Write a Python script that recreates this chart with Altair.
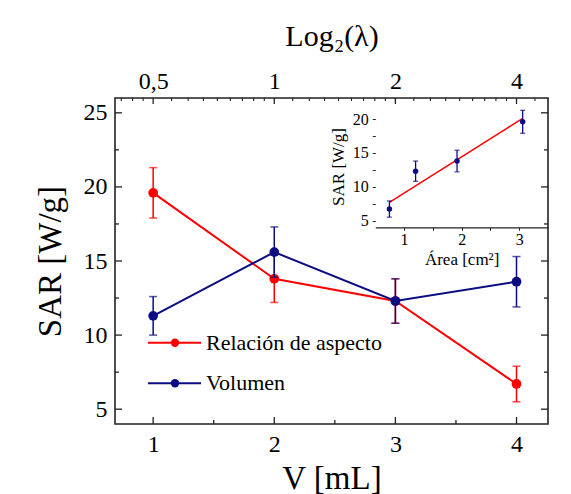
import altair as alt
import pandas as pd

# --- data -------------------------------------------------------------
volumen_ml = [1, 2, 3, 4]
sar_aspecto = [19.6, 13.8, 12.3, 6.7]
err_aspecto = [1.7, 1.6, 1.5, 1.2]
sar_volumen = [11.3, 15.6, 12.3, 13.6]
err_volumen = [1.3, 1.7, 1.5, 1.7]

lambda_values = [0.5, 1, 2, 4]

area_cm2 = [0.745, 1.20, 1.92, 3.06]
sar_area = [6.7, 12.3, 13.8, 19.6]
err_area = [1.2, 1.5, 1.6, 1.7]
ajuste_area = [0.745, 3.06]
ajuste_sar = [7.7, 20.1]

series = ["Relación de aspecto", "Volumen"]
colors = ["#ff0000", "#0c0c82"]

# --- layout -----------------------------------------------------------
W, H = 433, 326
FONT = "Liberation Serif"
X_MIN, X_MAX = 0.685, 4.26
Y_MIN, Y_MAX = 4, 26
FRAME = "#222222"

x_main = alt.Scale(domain=[X_MIN, X_MAX], nice=False, zero=False)
y_main = alt.Scale(domain=[Y_MIN, Y_MAX], nice=False, zero=False)

rows = []
for name, ys, es in [(series[0], sar_aspecto, err_aspecto),
                     (series[1], sar_volumen, err_volumen)]:
    for v, s, e in zip(volumen_ml, ys, es):
        rows.append({"serie": name, "v": v, "sar": s, "lo": s - e, "hi": s + e})
df = pd.DataFrame(rows)

text_axis = dict(labelFont=FONT, labelColor="black", titleFont=FONT,
                 titleColor="black", titleFontWeight="normal", grid=False)

layers = []

# main axes (labels and titles only; the frame carries inward ticks)
axis_df = pd.DataFrame({"v": volumen_ml, "s": [5, 10, 15, 20]})
layers.append(alt.Chart(axis_df).mark_point(opacity=0).encode(
    x=alt.X("v:Q", scale=x_main, axis=alt.Axis(
        orient="bottom", values=volumen_ml, ticks=False, domain=False,
        labelFontSize=24, labelPadding=8, title="V [mL]",
        titleFontSize=33, titlePadding=6, **text_axis)),
    y=alt.Y("s:Q", scale=y_main, axis=alt.Axis(
        orient="left", values=[5, 10, 15, 20, 25], ticks=False, domain=False,
        labelFontSize=24, labelPadding=8, title="SAR [W/g]",
        titleFontSize=33, titlePadding=16, **text_axis)),
))

for name, col in zip(series, colors):
    b = alt.Chart(df).transform_filter(alt.datum.serie == name)
    xe = alt.X("v:Q", scale=x_main, axis=None)
    layers += [
        b.mark_rule(color=col, strokeWidth=1.5).encode(
            x=xe, y=alt.Y("lo:Q", scale=y_main, axis=None), y2="hi:Q"),
        b.mark_tick(color=col, orient="horizontal", size=8, thickness=1.5).encode(
            x=xe, y=alt.Y("lo:Q", scale=y_main, axis=None)),
        b.mark_tick(color=col, orient="horizontal", size=8, thickness=1.5).encode(
            x=xe, y=alt.Y("hi:Q", scale=y_main, axis=None)),
        b.mark_line(color=col, strokeWidth=2).encode(
            x=xe, y=alt.Y("sar:Q", scale=y_main, axis=None)),
        b.mark_circle(color=col, size=95, opacity=1).encode(
            x=xe, y=alt.Y("sar:Q", scale=y_main, axis=None)),
    ]

# inward tick marks on the frame
x_major = pd.DataFrame({"t": [1, 2, 3, 4]})
x_minor = pd.DataFrame({"t": [1.5, 2.5, 3.5]})
y_major = pd.DataFrame({"t": [5, 10, 15, 20, 25]})
y_minor = pd.DataFrame({"t": [7.5, 12.5, 17.5, 22.5]})


def xticks(d, length):
    return alt.Chart(d).mark_rule(color=FRAME, strokeWidth=1.3).encode(
        x=alt.X("t:Q", scale=x_main, axis=None),
        y=alt.value(H), y2=alt.value(H - length))


def yticks(d, length, right=False):
    x0 = W if right else 0
    x1 = W - length if right else length
    return alt.Chart(d).mark_rule(color=FRAME, strokeWidth=1.3).encode(
        y=alt.Y("t:Q", scale=y_main, axis=None),
        x=alt.value(x0), x2=alt.value(x1))


layers += [xticks(x_major, 7), xticks(x_minor, 4),
           yticks(y_major, 7), yticks(y_minor, 4),
           yticks(y_major, 7, True), yticks(y_minor, 4, True)]

# --- top axis: Log2(lambda) -------------------------------------------
lam_lo, lam_hi = 2 ** (X_MIN - 2), 2 ** (X_MAX - 2)
lam_scale = alt.Scale(type="log", base=2, domain=[lam_lo, lam_hi], nice=False)
lam_minor = [a * (1 + k / 9) for a in [0.25, 0.5, 1, 2, 4] for k in range(1, 9)]
lam_minor = [m for m in lam_minor if lam_lo < m < lam_hi]

layers.append(alt.Chart(pd.DataFrame({"lam": lambda_values})).mark_rule(
    color=FRAME, strokeWidth=1.3).encode(
    x=alt.X("lam:Q", scale=lam_scale, axis=alt.Axis(
        orient="top", values=lambda_values, ticks=False, domain=False,
        format="~g", labelExpr="replace(datum.label, '.', ',')",
        labelFontSize=24, labelPadding=5, title="Log₂(λ)",
        titleFontSize=30, titlePadding=18, **text_axis)),
    y=alt.value(0), y2=alt.value(6)))
layers.append(alt.Chart(pd.DataFrame({"lam": lam_minor})).mark_rule(
    color=FRAME, strokeWidth=1.1).encode(
    x=alt.X("lam:Q", scale=lam_scale, axis=None),
    y=alt.value(0), y2=alt.value(3)))

# --- inset: SAR vs area -----------------------------------------------
IX0, IX1 = 260.3, W
IY0, IY1 = 129.3, 7.6
xi = alt.Scale(domain=[0.5, 3.5], range=[IX0, IX1], nice=False, zero=False)
yi = alt.Scale(domain=[4, 22], range=[IY0, IY1], nice=False, zero=False)

inset_df = pd.DataFrame({"area": area_cm2, "sar": sar_area,
                         "lo": [s - e for s, e in zip(sar_area, err_area)],
                         "hi": [s + e for s, e in zip(sar_area, err_area)]})
fit_df = pd.DataFrame({"area": ajuste_area, "sar": ajuste_sar})

xi_axis = alt.Axis(orient="bottom", offset=-(H - IY0), values=[1, 1.5, 2, 2.5, 3],
                   labelExpr="datum.value % 1 ? '' : format(datum.value, 'd')",
                   tickSize=3, tickColor=FRAME, domainColor=FRAME, domainWidth=1.3,
                   labelFontSize=16, labelPadding=1, title="Área [cm²]",
                   titleFontSize=17, titlePadding=4, **text_axis)
yi_axis = alt.Axis(orient="left", offset=-IX0,
                   values=[5, 7.5, 10, 12.5, 15, 17.5, 20],
                   labelExpr="datum.value % 5 ? '' : format(datum.value, 'd')",
                   domain=False, tickSize=3, tickColor=FRAME,
                   labelFontSize=16, labelPadding=4, title="SAR [W/g]",
                   titleFontSize=17, titlePadding=5, **text_axis)

ib = alt.Chart(inset_df)
xie = alt.X("area:Q", scale=xi, axis=None)
layers += [
    alt.Chart(fit_df).mark_line(color=colors[0], strokeWidth=1.5).encode(
        x=alt.X("area:Q", scale=xi, axis=xi_axis),
        y=alt.Y("sar:Q", scale=yi, axis=yi_axis)),
    ib.mark_rule(color=colors[1], strokeWidth=1.3).encode(
        x=xie, y=alt.Y("lo:Q", scale=yi, axis=None), y2="hi:Q"),
    ib.mark_tick(color=colors[1], orient="horizontal", size=5, thickness=1.3).encode(
        x=xie, y=alt.Y("lo:Q", scale=yi, axis=None)),
    ib.mark_tick(color=colors[1], orient="horizontal", size=5, thickness=1.3).encode(
        x=xie, y=alt.Y("hi:Q", scale=yi, axis=None)),
    ib.mark_circle(color=colors[1], size=30, opacity=1).encode(
        x=xie, y=alt.Y("sar:Q", scale=yi, axis=None)),
]

# --- legend -----------------------------------------------------------
leg_df = pd.DataFrame({"idx": [0, 1], "serie": series})
leg_y = alt.Y("idx:Q", scale=alt.Scale(domain=[0, 1], range=[244.7, 285.3]), axis=None)
leg_color = alt.Color("serie:N", scale=alt.Scale(domain=series, range=colors), legend=None)
lb = alt.Chart(leg_df)
layers += [
    lb.mark_rule(strokeWidth=2).encode(y=leg_y, x=alt.value(33), x2=alt.value(86),
                                       color=leg_color),
    lb.mark_circle(size=70, opacity=1).encode(y=leg_y, x=alt.value(60), color=leg_color),
    lb.mark_text(align="left", baseline="middle", font=FONT, fontSize=22,
                 color="black").encode(y=leg_y, x=alt.value(91), text="serie:N"),
]

chart = alt.layer(*layers).resolve_scale(
    x="independent", y="independent"
).properties(
    width=W, height=H,
    autosize=alt.AutoSizeParams(type="none"),
    padding={"left": 115, "top": 98, "right": 23, "bottom": 70},
    background="white",
).configure_view(stroke=FRAME, strokeWidth=1.6)

chart.save("out.html", embed_options={"renderer": "svg", "actions": False})
